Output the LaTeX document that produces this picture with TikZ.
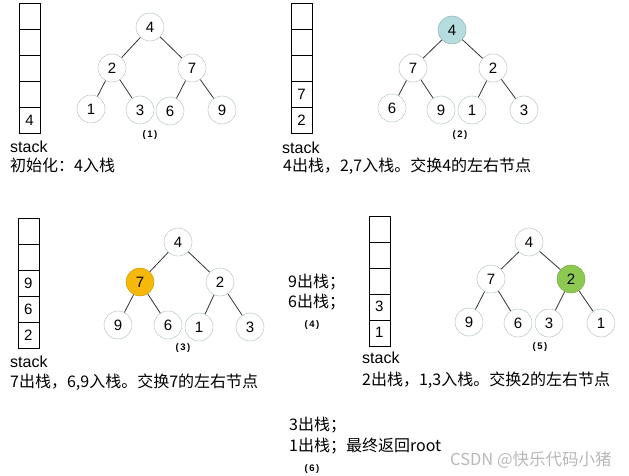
\documentclass[tikz,border=0pt]{standalone}
\usepackage{fontspec}
\setmainfont{Liberation Sans}
\newfontfamily\cjk{Noto Sans CJK SC}
\usepackage{xcolor}
\usetikzlibrary{positioning}
\definecolor{ringgray}{HTML}{A7B9BB}
\definecolor{hlblue}{HTML}{B5DCDE}
\definecolor{hlorange}{HTML}{F6B90A}
\definecolor{hlgreen}{HTML}{8DC851}
\definecolor{markgray}{HTML}{B8B8B8}
\newcommand{\steptag}[1]{(\hspace{1.5pt}#1\hspace{1.5pt})}
\tikzset{
  hnode/.style={circle,draw=ringgray,fill=white,minimum size=28pt,inner sep=0pt,font=\fontsize{15}{15}\selectfont},
  cell/.style={draw,minimum width=21pt,minimum height=26pt,inner sep=0pt,outer sep=0pt,font=\fontsize{15}{15}\selectfont},
  txt/.style={anchor=west,inner sep=0pt,font=\cjk\fontsize{16}{18}\selectfont},
  stk/.style={anchor=west,inner sep=0pt,font=\fontsize{16}{16}\selectfont},
  steplabel/.style={inner sep=0pt,font=\bfseries\fontsize{9.5}{9.5}\selectfont},
  link/.style={draw=black!80,line width=0.8pt}
}
\begin{document}
\begin{tikzpicture}[x=1pt,y=-1pt]
\useasboundingbox (0,0) rectangle (629,476);
% (1) initial state
\node[cell] (sa1) at (29.5,16.3) {};
\node[cell,below=0pt of sa1] (sa2) {};\node[cell,below=0pt of sa2] (sa3) {};
\node[cell,below=0pt of sa3] (sa4) {};\node[cell,below=0pt of sa4] (sa5) {4};
\node[stk] (sta) at (10,147) {stack};
\node[txt] (noa) at (10,165) {初始化：4入栈};
\node[hnode] (a4) at (150,27) {4};
\node[hnode] (a2) at (112,68) {2};\node[hnode] (a7) at (192,68) {7};
\node[hnode] (a1) at (91,109) {1};\node[hnode] (a3) at (140,110) {3};
\node[hnode] (a6) at (170,111) {6};\node[hnode] (a9) at (222,110) {9};
\draw[link] (a4)--(a2);\draw[link] (a4)--(a7);\draw[link] (a2)--(a1);
\draw[link] (a2)--(a3);\draw[link] (a7)--(a6);\draw[link] (a7)--(a9);
\node[steplabel] (ca) at (150,135) {\steptag{1}};
% (2) swap children of 4
\node[cell] (sb1) at (301.5,16.3) {};
\node[cell,below=0pt of sb1] (sb2) {};\node[cell,below=0pt of sb2] (sb3) {};
\node[cell,below=0pt of sb3] (sb4) {7};\node[cell,below=0pt of sb4] (sb5) {2};
\node[stk] (stb) at (282,148) {stack};
\node[txt] (nob) at (283,166) {4出栈，2,7入栈。交换4的左右节点};
\node[hnode,fill=hlblue,draw=hlblue!75!black] (b4) at (452,30) {4};
\node[hnode] (b7) at (413,68) {7};\node[hnode] (b2) at (493,68) {2};
\node[hnode] (b6) at (392,108) {6};\node[hnode] (b9) at (441,110) {9};
\node[hnode] (b1) at (472,110) {1};\node[hnode] (b3) at (524,110) {3};
\draw[link] (b4)--(b7);\draw[link] (b4)--(b2);\draw[link] (b7)--(b6);
\draw[link] (b7)--(b9);\draw[link] (b2)--(b1);\draw[link] (b2)--(b3);
\node[steplabel] (cb) at (460,135) {\steptag{2}};
% (3) swap children of 7
\node[cell] (sc1) at (28.3,231.3) {};
\node[cell,below=0pt of sc1] (sc2) {};\node[cell,below=0pt of sc2] (sc3) {9};
\node[cell,below=0pt of sc3] (sc4) {6};\node[cell,below=0pt of sc4] (sc5) {2};
\node[stk] (stc) at (10,362) {stack};
\node[txt] (noc) at (10,382) {7出栈，6,9入栈。交换7的左右节点};
\node[hnode] (c4) at (178,242) {4};
\node[hnode,fill=hlorange,draw=hlorange!80!black] (c7) at (140,282) {7};
\node[hnode] (c2) at (220,282) {2};
\node[hnode] (c9) at (118,325) {9};\node[hnode] (c6) at (168,325) {6};
\node[hnode] (c1) at (199,327) {1};\node[hnode] (c3) at (250,327) {3};
\draw[link] (c4)--(c7);\draw[link] (c4)--(c2);\draw[link] (c7)--(c9);
\draw[link] (c7)--(c6);\draw[link] (c2)--(c1);\draw[link] (c2)--(c3);
\node[steplabel] (cc) at (183,348) {\steptag{3}};
% (4) pop 9 and 6
\node[txt] (nod1) at (288,282) {9出栈；};
\node[txt] (nod2) at (288,302) {6出栈；};
\node[steplabel] (cd) at (312,325) {\steptag{4}};
% (5) swap children of 2
\node[cell] (se1) at (379.2,228.7) {};
\node[cell,below=0pt of se1] (se2) {};\node[cell,below=0pt of se2] (se3) {};
\node[cell,below=0pt of se3] (se4) {3};\node[cell,below=0pt of se4] (se5) {1};
\node[stk] (ste) at (362,358) {stack};
\node[txt] (noe) at (362,380) {2出栈，1,3入栈。交换2的左右节点};
\node[hnode] (e4) at (529,242) {4};
\node[hnode] (e7) at (491,279) {7};
\node[hnode,fill=hlgreen,draw=hlgreen!80!black] (e2) at (571,279) {2};
\node[hnode] (e9) at (469,322) {9};\node[hnode] (e6) at (518,323) {6};
\node[hnode] (e3) at (549,323) {3};\node[hnode] (e1) at (601,323) {1};
\draw[link] (e4)--(e7);\draw[link] (e4)--(e2);\draw[link] (e7)--(e9);
\draw[link] (e7)--(e6);\draw[link] (e2)--(e3);\draw[link] (e2)--(e1);
\node[steplabel] (ce) at (540,347) {\steptag{5}};
% (6) finish
\node[txt] (nof1) at (289,425) {3出栈；};
\node[txt] (nof2) at (289,446) {1出栈；最终返回root};
\node[steplabel] (cf) at (312,469) {\steptag{6}};
\node[txt,text=markgray,font=\cjk\fontsize{16.5}{16.5}\selectfont] (mark) at (450,460) {CSDN @快乐代码小猪};
\end{tikzpicture}
\end{document}
